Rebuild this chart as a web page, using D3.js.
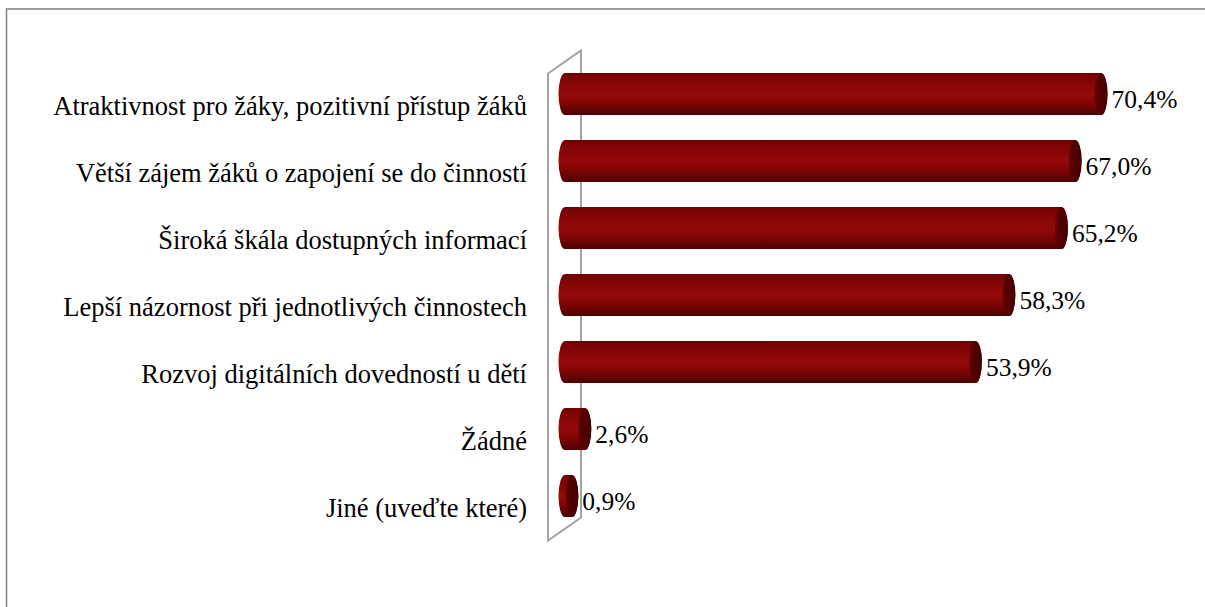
<!DOCTYPE html>
<html>
<head>
<meta charset="utf-8">
<script src="https://cdn.jsdelivr.net/npm/d3@7/dist/d3.min.js"></script>
<style>
  html, body { margin: 0; padding: 0; background: #fff; }
  svg { display: block; }
</style>
</head>
<body>
<svg id="chart" width="1205" height="607"></svg>
<script>
// Categories (top to bottom) and their shares in percent
const categories = [
  "Atraktivnost pro žáky, pozitivní přístup žáků",
  "Větší zájem žáků o zapojení se do činností",
  "Široká škála dostupných informací",
  "Lepší názornost při jednotlivých činnostech",
  "Rozvoj digitálních dovedností u dětí",
  "Žádné",
  "Jiné (uveďte které)"
];
const values = [70.4, 67.0, 65.2, 58.3, 53.9, 2.6, 0.9];
const valueLabels = ["70,4%", "67,0%", "65,2%", "58,3%", "53,9%", "2,6%", "0,9%"];

const data = categories.map((c, i) => ({ cat: c, value: values[i], label: valueLabels[i] }));

const FONT = "'Times New Roman', Tinos, 'Liberation Serif', 'DejaVu Serif', serif";

const svg = d3.select("#chart");
const W = 1205, H = 607;

// Outer chart frame (runs off the right and bottom edges)
svg.append("rect")
  .attr("x", 6.5).attr("y", 9)
  .attr("width", W + 20).attr("height", H + 20)
  .attr("fill", "none")
  .attr("stroke", "#878787")
  .attr("stroke-width", 1.6);

const x = d3.scaleLinear().domain([0, 70.4]).range([565, 1101]);
const y = d3.scaleBand().domain(categories).range([60.5, 529.5]).paddingInner(0).paddingOuter(0);

const barH = y.bandwidth() * 0.63;
const ry = barH / 2;
const rx = 6.5;

// Gradients for the cylinder body and end cap
const defs = svg.append("defs");
const body = defs.append("linearGradient")
  .attr("id", "cylBody").attr("x1", 0).attr("y1", 0).attr("x2", 0).attr("y2", 1);
[
  [0, "#6a0202"], [0.08, "#7a0303"], [0.35, "#8c0707"], [0.5, "#950a0a"],
  [0.65, "#880606"], [0.85, "#680202"], [1, "#4a0000"]
].forEach(([o, c]) => body.append("stop").attr("offset", o).attr("stop-color", c));

const cap = defs.append("linearGradient")
  .attr("id", "cylCap").attr("x1", 0).attr("y1", 0).attr("x2", 1).attr("y2", 0);
[
  [0, "#6a0505"], [0.25, "#560000"], [1, "#450000"]
].forEach(([o, c]) => cap.append("stop").attr("offset", o).attr("stop-color", c));

// 3D side wall behind the bars
const x0 = x(0);
const wallFront = x0 - 17, wallBack = x0 + 16;
const wallTop = y.range()[0] - 10, wallBottom = y.range()[1] - 12;
const depth = 23;
svg.append("path")
  .attr("d", `M${wallFront},${wallTop + depth} L${wallBack},${wallTop} L${wallBack},${wallBottom} L${wallFront},${wallBottom + depth} Z`)
  .attr("fill", "#fff")
  .attr("stroke", "#a3a3a3")
  .attr("stroke-width", 2);

// Cylinders
const bars = svg.append("g").selectAll("g").data(data).join("g");

bars.append("path")
  .attr("fill", "url(#cylBody)")
  .attr("d", d => {
    const cy = y(d.cat) + y.bandwidth() / 2;
    const t = cy - ry, b = cy + ry;
    const xs = x(0), xe = x(d.value);
    return `M${xs},${t} L${xe},${t} A${rx},${ry} 0 0 1 ${xe},${b} L${xs},${b} A${rx},${ry} 0 0 1 ${xs},${t} Z`;
  });

bars.append("ellipse")
  .attr("cx", d => x(d.value))
  .attr("cy", d => y(d.cat) + y.bandwidth() / 2)
  .attr("rx", rx).attr("ry", ry)
  .attr("fill", "url(#cylCap)");

// Value labels
bars.append("text")
  .attr("x", d => x(d.value) + rx + 4)
  .attr("y", d => y(d.cat) + y.bandwidth() / 2 + 14)
  .style("font-family", FONT)
  .style("font-size", "25.5px")
  .attr("fill", "#000")
  .text(d => d.label);

// Category labels
svg.append("g").selectAll("text").data(data).join("text")
  .attr("x", 527)
  .attr("y", d => y(d.cat) + y.bandwidth() / 2 + 21)
  .attr("text-anchor", "end")
  .style("font-family", FONT)
  .style("font-size", "26.5px")
  .attr("fill", "#000")
  .text(d => d.cat);
</script>
</body>
</html>
